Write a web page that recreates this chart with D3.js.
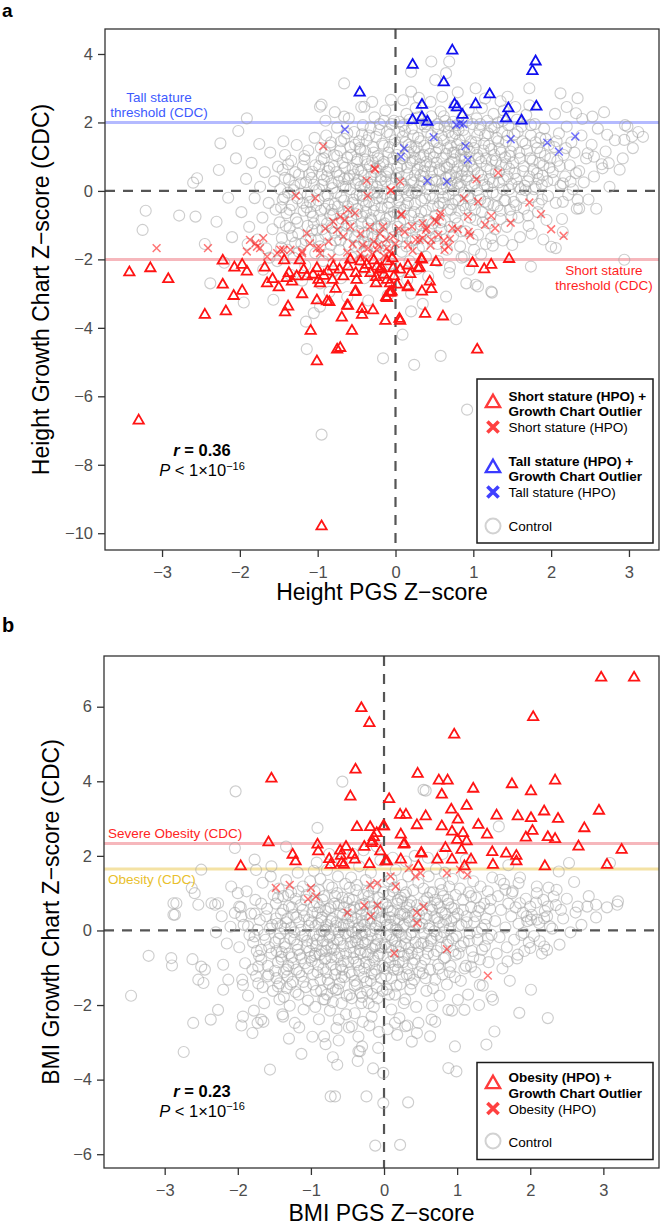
<!DOCTYPE html>
<html><head><meta charset="utf-8">
<script src="https://cdn.jsdelivr.net/npm/d3@7"></script>
<style>body{margin:0;background:#fff}svg{display:block}text{font-family:"Liberation Sans",Arial,Helvetica,sans-serif}</style>
</head><body><svg id="c" width="662" height="1225"></svg>
<script>
// ---------- DATA (panel a: height) ----------
const aXTicks=[-3,-2,-1,0,1,2,3];
const aYTicks=[-10,-8,-6,-4,-2,0,2,4];
const aShortTri=[[-3.42,-2.38],[-3.15,-2.26],[-2.92,-2.58],[-3.30,-6.71],[-2.22,-2.04],[-2.07,-2.24],[-1.97,-2.16],[-1.91,-2.36],[-2.22,-2.74],[-2.08,-3.07],[-1.97,-2.92],[-2.45,-3.62],[-2.18,-3.52],[-1.68,-2.24],[-1.65,-2.70],[-1.58,-2.58],[-1.50,-2.82],[-1.43,-2.03],[-1.37,-2.40],[-1.40,-2.55],[-1.33,-2.65],[-1.27,-2.50],[-1.23,-2.03],[-1.18,-2.31],[-1.14,-2.50],[-1.06,-2.45],[-1.01,-2.26],[-0.99,-2.60],[-0.97,-2.70],[-1.20,-3.02],[-1.38,-3.38],[-1.42,-3.55],[-1.01,-3.20],[-0.88,-3.23],[-0.85,-3.25],[-1.09,-4.09],[-0.80,-2.21],[-0.81,-2.60],[-0.77,-2.86],[-0.67,-2.50],[-0.61,-2.21],[-0.58,-2.01],[-0.51,-2.40],[-0.50,-2.60],[-0.51,-2.94],[-0.62,-3.35],[-0.69,-3.70],[-0.56,-4.09],[-0.43,-3.45],[-0.43,-3.62],[-0.29,-3.49],[-0.45,-2.06],[-0.37,-2.16],[-0.28,-2.03],[-0.24,-2.21],[-0.18,-2.26],[-0.11,-2.06],[-0.04,-1.97],[-0.03,-2.26],[-0.11,-2.60],[-0.07,-2.70],[0.02,-2.74],[-0.05,-2.94],[-0.11,-3.13],[-0.25,-2.70],[-0.13,-3.80],[0.05,-3.74],[0.06,-3.80],[0.16,-2.18],[0.19,-2.43],[0.29,-2.26],[0.34,-2.01],[0.16,-2.82],[0.34,-2.94],[0.38,-3.59],[-0.75,-4.64],[-0.71,-4.59],[-1.01,-4.98],[-0.95,-9.80],[1.05,-4.64],[-0.61,-3.36],[-0.12,-3.10],[-0.06,-2.97],[-0.52,-2.96],[0.16,-2.79],[0.46,-2.87],[0.44,-2.65],[0.61,-3.67],[0.99,-2.11],[1.14,-2.29],[1.23,-2.16],[1.46,-1.99],[0.52,-2.08],[0.33,-1.99],[0.31,-2.24],[-0.08,-2.97],[-0.20,-2.30],[-0.15,-2.45],[-0.32,-2.40],[-0.40,-2.28],[-0.87,-2.35],[-0.92,-2.48],[-0.72,-2.30],[-0.25,-2.52],[-0.02,-2.50],[0.06,-2.30]];
const aShortX=[[-0.93,1.31],[-0.26,0.63],[-0.37,0.30],[-0.36,-0.14],[-0.06,0.01],[0.06,0.27],[-1.28,-0.14],[-1.03,-0.21],[0.08,-0.68],[1.04,0.34],[1.32,0.53],[0.88,-0.21],[1.06,-0.31],[1.72,-0.34],[1.87,-0.68],[2.00,-1.12],[2.16,-1.31],[0.93,-0.75],[1.23,-0.73],[1.48,-0.93],[1.28,-1.09],[1.15,-0.99],[0.94,-1.20],[0.96,-1.30],[0.68,-1.63],[0.73,-1.09],[0.80,-1.12],[0.57,-0.75],[0.53,-0.90],[0.35,-0.94],[0.40,-1.09],[0.21,-1.04],[0.31,-1.43],[-0.03,-1.33],[-0.16,-1.04],[-0.20,-1.24],[-0.28,-1.48],[-0.11,-1.67],[-0.24,-1.72],[-0.35,-1.67],[-0.61,-0.55],[-0.52,-0.65],[-0.71,-0.75],[-0.65,-0.85],[-0.80,-0.90],[-0.75,-1.14],[-0.58,-1.04],[-0.67,-1.33],[-0.86,-1.48],[-0.97,-1.67],[-1.14,-1.24],[-1.10,-1.53],[-1.20,-1.77],[-1.35,-1.72],[-1.48,-1.72],[-1.70,-1.38],[-1.80,-1.53],[-1.74,-1.67],[-1.91,-1.77],[-3.07,-1.67],[-2.41,-1.67],[-1.87,-1.43],[-1.78,-1.63],[-1.65,-1.92],[-1.52,-1.82],[-1.44,-1.72],[-1.20,-1.82],[-1.01,-1.67],[-0.97,-1.82],[-0.27,0.66],[-0.06,0.03],[0.07,-0.70],[0.63,-1.72],[0.50,-0.85],[0.58,-0.65],[0.39,-1.14],[0.35,-1.38],[0.46,-1.43],[0.26,-1.43],[0.16,-1.58],[-0.45,-1.85],[-0.55,-1.55],[-0.82,-1.95],[-0.05,-1.85],[0.00,-1.55],[-0.15,-1.90],[-0.40,-1.95],[-0.62,-1.80],[-0.90,-1.10],[-0.45,-1.25],[0.12,-1.20],[-0.33,-1.05],[-0.12,-1.42],[0.04,-1.10],[0.22,-1.75],[0.45,-1.60],[0.55,-1.28],[0.62,-1.45],[-0.42,-1.58],[-0.22,-1.58],[-0.30,-1.85],[-0.08,-1.78],[0.70,-1.40]];
const aTallTri=[[-0.46,2.87],[0.22,3.68],[0.73,4.10],[0.62,3.17],[0.34,2.51],[0.22,2.07],[0.34,2.15],[0.41,2.02],[0.76,2.53],[0.79,2.44],[0.86,2.22],[1.03,2.53],[1.21,2.82],[1.45,2.41],[1.42,2.12],[1.62,2.05],[1.80,3.78],[1.76,3.50],[1.81,2.46]];
const aTallX=[[-0.65,1.80],[0.49,1.57],[0.11,1.25],[0.07,1.00],[0.78,1.93],[0.83,1.97],[0.87,1.95],[0.90,1.31],[0.93,0.91],[0.41,0.29],[0.66,0.27],[1.48,1.51],[1.95,1.41],[2.10,1.15],[2.31,1.59]];
const aControl=[[-1.98,-0.62],[-1.92,0.35],[-1.88,-1.05],[-1.85,0.82],[-1.81,-0.21],[-1.77,-1.42],[-1.74,0.12],[-1.71,-0.78],[-1.68,0.55],[-1.66,-1.68],[-1.63,-0.35],[-1.61,1.12],[-1.58,-1.12],[-1.56,0.28],[-1.54,-0.55],[-1.52,-2.05],[-1.51,0.71],[-1.9,-1.55],[-1.7,-2.3],[-1.62,-1.95],
[-1.49,-0.92],[-1.48,0.05],[-1.46,-1.38],[-1.45,0.62],[-1.43,-0.18],[-1.42,1.05],[-1.40,-0.65],[-1.39,-1.72],[-1.37,0.33],[-1.36,-1.08],[-1.34,0.88],[-1.33,-0.42],[-1.31,-1.95],[-1.30,0.15],[-1.28,-0.81],[-1.27,1.34],[-1.25,-1.25],[-1.24,0.48],[-1.22,-0.08],[-1.21,-1.55],[-1.19,0.72],[-1.18,-0.58],[-1.16,-2.18],[-1.15,0.25],[-1.13,-1.02],[-1.12,1.18],[-1.10,-0.32],[-1.09,-1.41],[-1.07,0.56],[-1.06,-0.75],[-1.04,1.55],[-1.03,-1.82],[-1.02,0.02],[-1.01,-1.15],[-1.35,-2.45],[-1.2,-2.62],[-1.44,1.45],[-1.26,-0.22],[-1.14,-0.48],[-1.08,0.38],[-1.38,-0.05],[-1.29,-1.52],[-1.17,1.02],[-1.05,-0.95],[-1.47,-0.48],
[-0.99,-0.28],[-0.98,0.72],[-0.97,-1.62],[-0.96,1.25],[-0.95,-0.85],[-0.94,0.18],[-0.93,-2.05],[-0.92,0.95],[-0.91,-0.52],[-0.90,-1.28],[-0.89,1.62],[-0.88,0.42],[-0.87,-0.12],[-0.86,-1.85],[-0.85,0.68],[-0.84,-0.72],[-0.83,1.42],[-0.82,-1.08],[-0.81,0.08],[-0.80,-2.35],[-0.79,1.05],[-0.78,-0.38],[-0.77,-1.45],[-0.76,0.55],[-0.75,1.85],[-0.74,-0.95],[-0.73,0.28],[-0.72,-1.72],[-0.71,1.18],[-0.70,-0.18],[-0.69,-1.22],[-0.68,0.82],[-0.67,-0.62],[-0.66,1.52],[-0.65,-2.12],[-0.64,0.12],[-0.63,-1.02],[-0.62,0.98],[-0.61,-0.45],[-0.60,-1.58],[-0.59,0.45],[-0.58,1.28],[-0.57,-0.82],[-0.56,-1.95],[-0.55,0.65],[-0.54,-0.25],[-0.53,1.72],[-0.52,-1.35],[-0.51,0.22],[-0.50,-0.68],[-0.97,-2.7],[-0.85,-2.95],[-0.7,-2.55],[-0.62,-3.1],[-0.9,2.05],[-0.78,2.3],[-0.6,2.12],[-0.95,0.48],[-0.82,-0.55],[-0.66,0.35],
[-0.49,0.92],[-0.48,-1.18],[-0.47,1.45],[-0.46,-0.12],[-0.45,-2.02],[-0.44,0.58],[-0.43,-0.75],[-0.42,1.92],[-0.41,-1.48],[-0.40,0.18],[-0.39,1.15],[-0.38,-0.42],[-0.37,-1.75],[-0.36,0.78],[-0.35,-0.95],[-0.34,1.62],[-0.33,0.02],[-0.32,-2.28],[-0.31,0.42],[-0.30,-1.25],[-0.29,1.28],[-0.28,-0.58],[-0.27,2.15],[-0.26,-1.62],[-0.25,0.65],[-0.24,-0.22],[-0.23,1.02],[-0.22,-1.05],[-0.21,1.78],[-0.20,-1.88],[-0.19,0.32],[-0.18,-0.48],[-0.17,1.38],[-0.16,-1.32],[-0.15,0.85],[-0.14,-0.08],[-0.13,2.35],[-0.12,-0.82],[-0.11,0.55],[-0.10,-1.58],[-0.09,1.12],[-0.08,-0.35],[-0.07,1.65],[-0.06,-2.12],[-0.05,0.22],[-0.04,-1.12],[-0.03,0.95],[-0.02,-0.62],[-0.01,1.48],[-0.48,0.32],[-0.42,-0.28],[-0.36,-1.32],[-0.3,0.88],[-0.24,0.12],[-0.18,-1.0],[-0.12,0.42],[-0.06,-0.18],[-0.44,2.45],[-0.3,2.6],[-0.15,2.05],[-0.4,-2.55],[-0.22,-2.62],[-0.08,-2.45],[-0.35,-3.2],[-0.1,-3.05],[-0.45,1.2],[-0.32,-0.8],[-0.2,0.72],[-0.05,1.95],[-0.27,-0.05],
[0.01,0.38],[0.02,-1.42],[0.03,1.25],[0.04,-0.28],[0.05,2.02],[0.06,-0.92],[0.07,0.72],[0.08,-1.78],[0.09,1.58],[0.10,0.05],[0.11,-0.55],[0.12,1.02],[0.13,-1.22],[0.14,2.25],[0.15,0.48],[0.16,-0.15],[0.17,1.35],[0.18,-2.05],[0.19,0.82],[0.20,-0.72],[0.21,1.82],[0.22,-1.45],[0.23,0.25],[0.24,1.15],[0.25,-0.38],[0.26,2.42],[0.27,-1.05],[0.28,0.62],[0.29,1.55],[0.30,-1.68],[0.31,0.12],[0.32,0.98],[0.33,-0.62],[0.34,1.95],[0.35,-1.25],[0.36,0.42],[0.37,1.32],[0.38,-0.22],[0.39,-1.92],[0.40,0.85],[0.41,1.72],[0.42,-0.85],[0.43,0.18],[0.44,1.08],[0.45,-1.38],[0.46,2.18],[0.47,0.55],[0.48,-0.45],[0.49,1.45],[0.02,0.68],[0.08,0.18],[0.14,-0.42],[0.2,1.28],[0.26,-0.05],[0.32,0.45],[0.38,0.72],[0.44,-0.12],[0.05,-2.35],[0.15,-2.6],[0.28,-2.28],[0.42,-2.5],[0.1,2.65],[0.3,2.72],[0.45,2.6],[0.2,-3.0],[0.35,-3.3],[0.48,-0.95],[0.12,1.75],[0.25,0.95],[0.4,1.95],[0.03,-0.65],[0.17,0.02],[0.33,-1.0],[0.47,0.32],
[0.51,-0.72],[0.52,1.12],[0.53,0.28],[0.54,-1.55],[0.55,1.82],[0.56,0.62],[0.57,-0.35],[0.58,2.32],[0.59,-1.12],[0.60,0.95],[0.61,0.05],[0.62,1.48],[0.63,-0.88],[0.64,2.05],[0.65,0.38],[0.66,-1.72],[0.67,1.25],[0.68,-0.12],[0.69,0.78],[0.70,1.92],[0.71,-0.55],[0.72,0.22],[0.73,1.58],[0.74,-1.32],[0.75,0.92],[0.76,2.48],[0.77,-0.25],[0.78,0.55],[0.79,1.35],[0.80,-0.95],[0.81,1.78],[0.82,0.12],[0.83,-1.62],[0.84,1.05],[0.85,0.45],[0.86,2.15],[0.87,-0.42],[0.88,0.72],[0.89,1.62],[0.90,-1.18],[0.91,0.32],[0.92,1.28],[0.93,-0.18],[0.94,2.38],[0.95,0.85],[0.96,-0.78],[0.97,1.45],[0.98,0.15],[0.99,1.95],[0.55,-2.05],[0.7,-2.22],[0.85,-1.95],[0.95,-2.3],[0.6,2.75],[0.8,2.88],[0.58,0.05],[0.66,0.68],[0.74,1.12],[0.82,-0.58],[0.9,0.98],[0.53,1.42],[0.62,-0.35],[0.71,0.45],[0.8,0.22],[0.88,1.2],[0.97,-0.42],[0.63,1.88],[0.77,1.68],[0.92,0.58],[0.99,-1.42],
[1.01,0.62],[1.02,-0.55],[1.03,1.42],[1.04,2.12],[1.05,0.02],[1.06,-1.28],[1.07,0.95],[1.08,1.78],[1.09,-0.25],[1.10,0.45],[1.11,2.42],[1.12,-0.92],[1.13,1.18],[1.14,0.18],[1.15,1.62],[1.16,-1.55],[1.17,0.72],[1.18,2.05],[1.19,-0.38],[1.20,1.32],[1.21,0.35],[1.22,-0.72],[1.23,1.88],[1.24,0.88],[1.25,-0.05],[1.26,2.25],[1.27,1.05],[1.28,-1.12],[1.29,0.52],[1.30,1.55],[1.31,-0.45],[1.32,2.0],[1.33,0.25],[1.34,1.22],[1.35,-0.82],[1.36,0.75],[1.37,1.72],[1.38,0.05],[1.39,2.35],[1.40,-0.28],[1.41,0.98],[1.42,1.45],[1.43,-1.05],[1.44,0.42],[1.45,1.92],[1.46,0.65],[1.47,-0.55],[1.48,1.15],[1.49,0.2],[1.1,-1.85],[1.25,-1.6],[1.38,-1.45],[1.15,2.7],[1.35,2.62],[1.05,1.05],
[1.51,0.82],[1.52,-0.32],[1.53,1.65],[1.55,0.35],[1.56,2.08],[1.58,-0.78],[1.59,1.12],[1.61,0.05],[1.62,1.88],[1.64,0.58],[1.65,-0.52],[1.67,1.38],[1.68,2.22],[1.70,0.28],[1.71,-1.02],[1.73,0.95],[1.74,1.62],[1.76,-0.18],[1.77,0.62],[1.79,1.95],[1.80,0.12],[1.82,1.25],[1.83,-0.62],[1.85,0.82],[1.86,1.55],[1.88,-0.25],[1.89,0.45],[1.91,1.82],[1.92,1.02],[1.94,-0.85],[1.95,0.28],[1.97,1.35],[1.98,0.68],[1.6,-1.35],[1.75,-1.25],[1.9,-1.42],[1.54,2.45],[1.72,2.5],[1.66,0.15],[1.84,0.35],
[2.02,0.55],[2.04,1.28],[2.06,-0.35],[2.08,0.88],[2.10,1.68],[2.12,0.15],[2.14,-0.82],[2.16,1.05],[2.18,0.42],[2.2,1.88],[2.22,-0.12],[2.24,0.75],[2.26,1.42],[2.28,0.05],[2.3,1.12],[2.33,-0.52],[2.36,0.58],[2.39,1.62],[2.42,0.25],[2.45,0.95],[2.48,-0.25],[2.05,2.25],[2.2,2.45],[2.4,2.1],[2.15,-1.2],
[2.52,1.35],[2.55,0.42],[2.6,1.82],[2.65,0.78],[2.7,1.15],[2.75,0.12],[2.82,1.48],[2.88,0.62],[2.95,1.92],[3.05,1.25],[3.12,1.72],[3.18,1.58],[2.58,-0.52],[2.68,2.3],[2.92,0.95],
[-1.91,2.12],[-2.02,1.75],[-2.25,1.39],[-1.75,1.37],[-2.27,0.61],[-2.55,0.37],[-2.60,0.24],[-3.21,-0.58],[-2.78,-0.72],[-3.25,-1.14],[-2.57,-0.75],[-0.97,2.46],[-0.95,2.52],[0.46,3.78],[0.69,3.78],[0.51,3.24],[0.65,3.44],[1.03,3.0],[1.44,2.75],[1.72,3.0],[2.12,2.85],[2.34,2.71],[2.32,2.27],[2.53,2.17],[2.72,1.64],[2.98,1.88],[2.94,1.49],[3.04,1.59],[2.47,1.10],[2.55,1.00],[2.74,0.81],[2.66,0.66],[2.32,0.52],[2.25,0.27],[2.15,0.22],[2.34,-0.26],[2.36,-0.51],[2.00,-1.63],[2.06,-1.67],[2.94,-2.01],[1.74,-2.21],[1.50,-1.58],[1.23,-1.38],[1.01,-1.72],[0.88,-1.92],[0.69,-2.40],[0.91,-2.70],[1.06,-2.79],[1.23,-2.94],[0.65,-3.09],[0.20,3.48],[0.20,2.90],[-0.06,2.66],[-0.40,2.46],[-0.66,3.14],[-0.66,2.17],[-0.95,-7.12],[0.92,-6.39],[-0.16,-4.89],[0.24,-5.08],[0.58,-4.82],[0.20,-3.52],[0.09,-4.20],[0.78,-3.75],[1.24,-2.97],[1.03,-2.74],[-1.15,-3.82],[-1.14,-4.62],[-1.05,-3.57],[-1.95,-3.26],[-2.38,-2.70],[-1.57,-3.18],[-0.97,-3.38],[-2.1,-1.35],[-2.3,-0.9],[-2.15,-0.2],[-2.05,0.95],[-2.45,-1.55],[-2.2,-2.1]];
const aControlCore=[[-1.47,-1.65],[-1.45,-0.25],[-1.42,0.38],[-1.41,-1.02],[-1.38,0.78],[-1.36,-0.55],[-1.33,-1.32],[-1.31,0.02],[-1.29,0.55],[-1.26,-0.92],[-1.24,-1.78],[-1.22,0.22],[-1.19,-0.35],[-1.17,0.92],[-1.15,-1.45],[-1.13,-0.12],[-1.11,0.48],[-1.09,-0.62],[-1.07,-1.15],[-1.05,0.18],[-1.03,0.75],[-1.02,-0.42],
[-0.99,-1.42],[-0.98,0.05],[-0.96,-0.58],[-0.95,0.92],[-0.94,-1.12],[-0.92,0.32],[-0.91,-0.15],[-0.9,1.12],[-0.88,-0.95],[-0.87,0.58],[-0.86,-0.38],[-0.84,1.32],[-0.83,-1.58],[-0.82,0.22],[-0.8,-0.68],[-0.79,0.72],[-0.78,-1.22],[-0.76,-0.05],[-0.75,1.02],[-0.74,-0.45],[-0.72,0.45],[-0.71,-1.45],[-0.7,1.45],[-0.69,-0.82],[-0.67,0.12],[-0.66,-0.28],[-0.65,0.68],[-0.63,-1.25],[-0.62,1.68],[-0.61,0.35],[-0.6,-0.62],[-0.58,0.05],[-0.57,1.05],[-0.56,-1.02],[-0.55,-0.35],[-0.53,0.48],[-0.52,1.35],[-0.51,-1.62],[-0.5,0.85],[-0.5,-0.12],
[-0.49,-0.52],[-0.48,0.62],[-0.47,-1.55],[-0.46,1.25],[-0.45,0.12],[-0.44,-0.95],[-0.43,1.65],[-0.42,-0.15],[-0.41,0.45],[-0.4,-1.22],[-0.39,0.92],[-0.38,-0.62],[-0.37,1.48],[-0.36,0.25],[-0.35,-1.58],[-0.34,-0.32],[-0.33,0.72],[-0.32,1.85],[-0.31,-0.85],[-0.3,0.18],[-0.29,-1.35],[-0.28,1.12],[-0.27,-0.42],[-0.26,0.55],[-0.25,1.58],[-0.24,-1.12],[-0.23,-0.05],[-0.22,0.95],[-0.21,-0.72],[-0.2,1.95],[-0.19,0.42],[-0.18,-1.45],[-0.17,-0.22],[-0.16,0.78],[-0.15,1.32],[-0.14,-0.95],[-0.13,0.28],[-0.12,-1.75],[-0.11,1.72],[-0.1,-0.48],[-0.09,0.62],[-0.08,1.28],[-0.07,-0.75],[-0.05,0.05],[-0.03,-1.35],[-0.02,2.05],
[0.01,-0.12],[0.02,1.05],[0.03,-1.05],[0.04,0.52],[0.05,1.72],[0.06,-0.48],[0.07,0.25],[0.08,-1.32],[0.09,0.95],[0.1,1.92],[0.11,-0.82],[0.12,0.12],[0.13,1.42],[0.14,-1.62],[0.15,0.68],[0.16,-0.35],[0.17,1.12],[0.18,2.08],[0.19,-1.08],[0.2,0.32],[0.21,-0.05],[0.22,0.88],[0.23,1.62],[0.24,-0.62],[0.25,0.45],[0.26,-1.42],[0.27,1.28],[0.28,0.02],[0.29,2.15],[0.3,-0.82],[0.31,0.78],[0.32,1.45],[0.33,-0.28],[0.34,0.28],[0.35,-1.62],[0.36,1.05],[0.37,0.58],[0.38,1.88],[0.39,-0.58],[0.4,0.05],[0.42,1.25],[0.43,-1.15],[0.45,0.72],[0.46,1.62],[0.48,-0.22],[0.49,0.98],
[0.51,0.32],[0.52,-1.32],[0.53,0.82],[0.54,1.95],[0.55,-0.45],[0.56,1.25],[0.57,0.58],[0.58,-0.92],[0.59,1.62],[0.6,0.22],[0.61,-0.18],[0.62,2.18],[0.63,0.72],[0.64,-1.42],[0.65,1.08],[0.66,0.12],[0.67,-0.55],[0.68,1.72],[0.69,0.42],[0.7,-1.05],[0.71,1.32],[0.72,0.85],[0.73,-0.38],[0.74,2.02],[0.75,0.02],[0.76,1.12],[0.77,-0.78],[0.78,0.38],[0.79,1.92],[0.8,0.72],[0.81,-0.28],[0.82,1.48],[0.83,0.18],[0.84,-1.18],[0.85,1.22],[0.86,0.58],[0.87,1.78],[0.88,-0.05],[0.89,0.92],[0.9,-0.52],[0.92,2.05],[0.93,0.42],[0.95,1.15],[0.96,-0.22],[0.98,0.72],
[1.01,1.25],[1.02,0.22],[1.03,-0.85],[1.05,1.62],[1.06,0.52],[1.07,-0.15],[1.09,1.95],[1.1,0.85],[1.11,-0.62],[1.12,0.32],[1.14,1.38],[1.15,-0.32],[1.16,0.95],[1.18,0.12],[1.19,1.68],[1.2,-0.95],[1.22,0.62],[1.23,1.22],[1.25,0.25],[1.26,-0.42],[1.27,1.85],[1.29,0.88],[1.3,-0.12],[1.32,1.45],[1.33,0.55],[1.35,-0.58],[1.36,1.12],[1.38,2.05],[1.39,0.32],[1.41,-0.28],[1.42,0.78],[1.44,1.62],[1.46,0.05],[1.47,1.02],[1.49,-0.75],
[1.51,1.32],[1.53,0.52],[1.55,-0.42],[1.57,1.72],[1.58,0.12],[1.6,0.95],[1.62,-0.18],[1.63,1.45],[1.65,0.72],[1.67,0.02],[1.69,1.18],[1.7,-0.72],[1.72,0.42],[1.74,1.92],[1.76,0.88],[1.78,0.05],[1.8,1.42],[1.82,0.52],[1.84,-0.38],[1.86,1.12],[1.88,0.18],[1.9,0.75],[1.93,1.52],[1.96,-0.15],[1.99,0.95],[2.03,0.32],[2.07,1.45],[2.11,0.72],[2.15,-0.32],[2.19,1.25]];

// ---------- DATA (panel b: BMI) ----------
const bXTicks=[-3,-2,-1,0,1,2,3];
const bYTicks=[-6,-4,-2,0,2,4,6];
const bObeseTri=[[2.97,6.78],[3.42,6.78],[-0.31,5.96],[-0.20,5.56],[2.04,5.72],[0.96,5.25],[-0.39,4.31],[-0.46,3.59],[0.46,4.20],[0.75,4.02],[0.87,4.02],[0.79,3.64],[1.22,3.80],[1.75,3.92],[2.01,3.73],[2.34,4.02],[0.07,3.52],[2.94,3.21],[0.22,3.10],[0.30,3.10],[0.57,3.06],[0.92,3.24],[1.13,3.34],[1.01,2.97],[1.54,3.08],[1.83,3.06],[2.01,3.01],[2.19,3.19],[2.38,2.99],[2.74,2.74],[-0.37,2.77],[-0.19,2.77],[-0.01,2.79],[-0.10,2.61],[0.45,2.82],[0.79,2.79],[1.29,2.83],[0.23,2.57],[0.28,2.32],[-0.17,2.34],[-0.14,2.50],[-0.27,2.24],[-0.52,2.24],[-0.43,2.03],[-0.59,2.00],[-0.05,2.12],[0.04,1.85],[0.23,1.90],[-0.20,1.78],[-0.40,1.90],[-0.55,1.76],[0.51,2.08],[0.47,1.72],[0.73,1.90],[0.93,1.90],[0.84,2.21],[0.93,2.65],[1.00,2.43],[1.08,2.61],[1.13,2.39],[1.06,2.16],[1.19,1.90],[1.10,1.72],[1.41,2.57],[1.48,2.10],[1.49,1.76],[1.67,2.06],[1.81,2.00],[1.81,1.85],[1.94,2.49],[2.03,2.67],[2.24,2.50],[2.34,2.45],[2.20,1.72],[2.66,2.25],[3.25,2.16],[3.05,1.76],[-1.54,4.07],[-1.58,2.36],[-1.96,1.72],[-1.25,2.03],[-1.21,1.85],[-0.91,2.30],[-0.90,2.12],[-0.75,1.91],[-0.73,1.76],[-0.60,2.14],[-0.58,1.81],[-0.16,2.39],[0.00,2.79],[0.02,1.85],[0.27,2.30],[0.51,2.06]];
const bObeseX=[[-1.48,1.14],[-1.29,1.22],[-1.00,1.14],[-1.04,0.84],[-0.93,0.91],[-0.50,0.48],[-0.27,0.67],[-0.09,0.67],[-0.18,0.38],[-0.19,1.22],[-0.09,1.27],[0.09,1.45],[0.16,1.18],[0.34,1.67],[0.43,1.45],[0.50,1.54],[0.54,0.64],[0.45,0.48],[0.45,0.20],[0.14,-0.61],[0.86,1.54],[1.04,1.63],[1.14,1.49],[0.86,-0.50],[1.42,-1.21]];
const bControl=[[-1.98,-0.45],[-1.96,0.62],[-1.94,-1.32],[-1.92,0.15],[-1.9,-0.88],[-1.88,1.05],[-1.86,-1.75],[-1.84,-0.12],[-1.82,0.45],[-1.8,-1.05],[-1.78,-2.15],[-1.76,0.82],[-1.74,-0.55],[-1.72,-1.42],[-1.7,0.28],[-1.68,-0.78],[-1.66,1.28],[-1.64,-1.95],[-1.62,-0.25],[-1.6,0.58],[-1.58,-1.18],[-1.56,0.05],[-1.54,-0.62],[-1.52,-1.62],[-1.51,0.95],[-1.95,-2.55],[-1.8,-2.75],[-1.65,-2.45],[-1.55,1.45],[-1.75,1.62],
[-1.49,-0.32],[-1.48,0.72],[-1.47,-1.28],[-1.46,0.18],[-1.45,-0.85],[-1.44,1.12],[-1.43,-1.85],[-1.42,-0.08],[-1.41,0.45],[-1.4,-0.58],[-1.39,-2.25],[-1.38,0.92],[-1.37,-1.12],[-1.36,0.05],[-1.35,-0.45],[-1.34,1.35],[-1.33,-1.55],[-1.32,0.32],[-1.31,-0.95],[-1.3,0.65],[-1.29,-2.02],[-1.28,-0.22],[-1.27,1.02],[-1.26,-0.72],[-1.25,-1.38],[-1.24,0.42],[-1.23,-0.05],[-1.22,-2.48],[-1.21,0.85],[-1.2,-1.05],[-1.19,-0.38],[-1.18,1.55],[-1.17,-1.72],[-1.16,0.22],[-1.15,-0.65],[-1.14,0.68],[-1.13,-1.22],[-1.12,-0.15],[-1.11,1.18],[-1.1,-2.12],[-1.09,0.38],[-1.08,-0.88],[-1.07,-1.52],[-1.06,0.95],[-1.05,-0.28],[-1.04,-1.88],[-1.03,0.12],[-1.02,-0.55],[-1.01,1.32],[-1.3,-2.9],
[-0.99,-0.82],[-0.98,0.48],[-0.97,-1.45],[-0.96,-0.12],[-0.95,1.05],[-0.94,-2.05],[-0.93,-0.42],[-0.92,0.75],[-0.91,-1.12],[-0.9,0.18],[-0.89,-2.38],[-0.88,-0.65],[-0.87,1.38],[-0.86,-1.62],[-0.85,0.35],[-0.84,-0.28],[-0.83,-1.02],[-0.82,0.92],[-0.81,-1.85],[-0.8,0.02],[-0.79,-0.55],[-0.78,1.62],[-0.77,-1.32],[-0.76,0.58],[-0.75,-0.18],[-0.74,-2.15],[-0.73,0.25],[-0.72,-0.92],[-0.71,1.15],[-0.7,-1.55],[-0.69,-0.35],[-0.68,0.72],[-0.67,-1.18],[-0.66,0.12],[-0.65,-2.62],[-0.64,-0.72],[-0.63,1.45],[-0.62,-0.05],[-0.61,-1.42],[-0.6,0.45],[-0.59,-0.95],[-0.58,-1.95],[-0.57,0.88],[-0.56,-0.42],[-0.55,0.15],[-0.54,-1.25],[-0.53,1.25],[-0.52,-0.62],[-0.51,-1.75],[-0.5,0.32],[-0.98,-2.85],[-0.8,-3.05],[-0.62,-2.95],[-0.92,1.82],[-0.75,2.05],[-0.58,1.85],[-0.85,-0.02],[-0.72,-0.48],[-0.6,-0.25],[-0.55,0.62],[-0.94,-0.62],[-0.66,-1.6],[-0.78,-1.72],[-0.88,0.62],[-0.52,-2.25],[-0.7,-3.4],[-0.96,1.6],[-0.64,1.0],[-0.8,-0.75],[-0.57,-1.05],
[-0.49,-0.15],[-0.48,0.85],[-0.47,-1.12],[-0.46,-0.45],[-0.45,1.42],[-0.44,-1.82],[-0.43,0.22],[-0.42,-0.75],[-0.41,0.62],[-0.4,-2.22],[-0.39,-0.28],[-0.38,1.08],[-0.37,-1.45],[-0.36,0.05],[-0.35,-0.92],[-0.34,1.72],[-0.33,-0.52],[-0.32,-1.68],[-0.31,0.42],[-0.3,-0.12],[-0.29,-2.45],[-0.28,0.95],[-0.27,-1.02],[-0.26,-0.35],[-0.25,1.35],[-0.24,-1.38],[-0.23,0.28],[-0.22,-0.65],[-0.21,-1.95],[-0.2,0.75],[-0.19,-0.02],[-0.18,1.55],[-0.17,-1.15],[-0.16,-0.48],[-0.15,0.52],[-0.14,-2.05],[-0.13,-0.82],[-0.12,1.18],[-0.11,0.12],[-0.1,-1.52],[-0.09,-0.25],[-0.08,0.88],[-0.07,-2.72],[-0.06,-0.62],[-0.05,1.88],[-0.04,-1.28],[-0.03,0.35],[-0.02,-0.95],[-0.01,1.02],[-0.48,-2.6],[-0.35,-2.85],[-0.2,-2.55],[-0.08,-3.15],[-0.42,2.05],[-0.28,2.15],[-0.1,2.25],[-0.45,0.38],[-0.38,-0.18],[-0.32,0.68],[-0.25,-0.85],[-0.18,0.18],[-0.12,-0.42],[-0.05,-0.08],[-0.4,-1.35],[-0.3,-1.78],[-0.16,-1.7],[-0.02,-1.62],[-0.47,1.15],[-0.22,1.05],[-0.06,0.58],[-0.36,-3.5],[-0.15,-3.7],[-0.44,-0.02],[-0.27,0.15],[-0.11,-1.05],
[0.01,-0.38],[0.02,0.72],[0.03,-1.22],[0.04,0.15],[0.05,-0.72],[0.06,1.32],[0.07,-1.72],[0.08,-0.12],[0.09,0.52],[0.1,-2.12],[0.11,-0.55],[0.12,1.05],[0.13,-1.05],[0.14,0.28],[0.15,-0.28],[0.16,1.62],[0.17,-1.48],[0.18,0.02],[0.19,0.82],[0.2,-0.85],[0.21,-2.35],[0.22,0.45],[0.23,-0.42],[0.24,1.22],[0.25,-1.25],[0.26,0.12],[0.27,-0.68],[0.28,0.95],[0.29,-1.85],[0.3,-0.18],[0.31,0.62],[0.32,-1.02],[0.33,1.45],[0.34,-0.48],[0.35,0.25],[0.36,-1.58],[0.37,0.78],[0.38,-0.05],[0.39,-0.88],[0.4,1.08],[0.41,-1.32],[0.42,0.38],[0.43,-0.32],[0.44,-2.05],[0.45,0.68],[0.46,-0.62],[0.47,1.28],[0.48,-1.12],[0.49,0.08],[0.05,-2.65],[0.18,-2.8],[0.32,-2.55],[0.45,-2.75],[0.12,1.95],[0.3,1.85],[0.42,2.0],[0.08,0.35],[0.2,-0.05],[0.28,0.45],[0.38,-0.6],[0.15,-0.95],[0.25,0.78],[0.48,0.42],[0.1,1.38],[0.35,-1.2],
[0.51,-0.35],[0.52,0.55],[0.53,-1.15],[0.54,1.12],[0.55,-0.08],[0.56,-0.78],[0.57,0.32],[0.58,-1.62],[0.59,0.88],[0.6,-0.42],[0.61,1.45],[0.62,0.12],[0.63,-1.05],[0.64,0.65],[0.65,-0.22],[0.66,-2.02],[0.67,1.02],[0.68,-0.65],[0.69,0.35],[0.7,-1.32],[0.71,1.65],[0.72,-0.12],[0.73,0.72],[0.74,-0.92],[0.75,0.22],[0.76,-1.75],[0.77,1.25],[0.78,-0.45],[0.79,0.48],[0.8,-1.18],[0.81,0.92],[0.82,-0.05],[0.83,1.55],[0.84,-0.72],[0.85,0.28],[0.86,-1.45],[0.87,0.82],[0.88,-0.28],[0.89,1.18],[0.9,0.05],[0.91,-0.95],[0.92,0.62],[0.93,-2.15],[0.94,1.38],[0.95,-0.55],[0.96,0.35],[0.97,-1.25],[0.98,0.95],[0.99,-0.15],[0.6,1.95],[0.8,2.05],[0.7,-2.45],
[1.01,0.45],[1.02,-0.62],[1.04,1.12],[1.05,-1.35],[1.06,0.15],[1.08,0.82],[1.09,-0.32],[1.1,1.52],[1.12,-0.95],[1.13,0.38],[1.15,-1.72],[1.16,1.02],[1.17,-0.08],[1.19,0.62],[1.2,-0.55],[1.22,1.32],[1.23,0.22],[1.25,-1.12],[1.26,0.88],[1.28,-0.25],[1.29,0.52],[1.31,-0.78],[1.32,1.18],[1.34,0.05],[1.35,-1.48],[1.37,0.72],[1.38,-0.42],[1.4,0.32],[1.42,1.05],[1.43,-0.85],[1.45,0.58],[1.47,-0.12],[1.48,1.42],[1.12,1.9],[1.3,-2.0],
[1.52,0.25],[1.54,-0.62],[1.56,0.92],[1.58,-0.18],[1.6,0.55],[1.62,-1.02],[1.64,1.25],[1.66,0.08],[1.68,-0.45],[1.7,0.72],[1.72,-1.35],[1.74,0.38],[1.76,1.05],[1.78,-0.25],[1.8,0.62],[1.82,-0.75],[1.84,0.18],[1.86,1.42],[1.88,-0.12],[1.9,0.48],[1.92,-0.55],[1.94,0.85],[1.96,0.25],[1.98,-0.32],[1.7,1.75],
[2.02,0.42],[2.05,-0.15],[2.08,0.75],[2.12,0.2],[2.16,-0.62],[2.2,0.52],[2.25,1.15],[2.3,0.05],[2.35,0.68],[2.4,-0.38],[2.45,0.32],[2.5,0.85],[2.55,-0.05],[2.62,0.48],[2.7,0.15],[2.8,0.92],[2.9,0.35],[3.05,0.62],[3.2,0.78],[2.6,1.3],
[-3.22,-0.68],[-3.46,-1.75],[-2.74,-3.26],[-2.61,-2.48],[-2.37,-2.39],[-2.27,-2.13],[-2.91,-0.74],[-2.90,-0.94],[-2.62,-0.77],[-2.50,-0.97],[-2.45,-1.05],[-2.54,-1.32],[-2.47,-1.41],[-2.20,-0.92],[-2.13,-1.32],[-2.20,-1.59],[-1.93,-2.31],[-1.68,-2.39],[-1.73,-2.48],[-1.56,-3.73],[-1.13,-3.31],[-1.38,-2.31],[-1.16,-2.60],[-0.82,-2.84],[-0.73,-4.45],[-1.93,-1.46],[-2.86,0.42],[-2.88,0.73],[-2.54,0.69],[-2.22,0.38],[-2.31,0.69],[-2.04,0.47],[-1.95,0.38],[-1.86,0.11],[-1.77,-0.16],[-1.68,-0.52],[-1.72,-0.97],[-1.59,-1.23],[-1.41,-0.70],[-1.45,-1.50],[-1.32,-1.23],[2.01,-1.59],[1.85,-2.21],[2.24,-2.35],[1.51,-2.71],[1.49,-1.86],[1.40,-3.06],[0.97,-3.11],[0.99,-3.78],[0.88,-3.69],[0.33,-4.61],[-0.24,-4.45],[-0.01,-4.63],[-0.12,-5.77],[0.22,-5.75],[-0.01,-3.82],[-0.33,-3.24],[-0.64,-3.60],[-0.67,-4.45],[0.63,-2.84],[0.38,-2.98],[2.24,0.64],[2.42,0.55],[2.65,0.64],[2.78,0.64],[2.90,0.69],[3.19,0.69],[2.19,-0.43],[2.19,0.33],[2.01,0.29],[1.83,-0.65],[1.69,-0.83],[1.47,-1.77],[1.19,-0.97],[1.31,-1.46],[1.01,-1.86],[1.10,-2.13],[0.88,-2.13],[0.65,-2.39],[0.47,-2.48],[0.29,-2.57],[0.15,-2.48],[-0.17,-2.31],[-0.44,-2.57],[-0.62,-2.39],[-0.30,-3.11],[-0.35,-3.24],[2.39,1.58],[2.53,1.81],[3.09,1.81],[2.36,1.09],[2.32,0.91],[2.18,0.82],[2.09,1.00],[2.09,1.18],[2.00,0.64],[1.95,0.38],[2.09,0.29],[2.23,0.38],[2.27,0.11],[2.13,-0.29],[2.23,-0.52],[2.00,-0.47],[1.91,-0.07],[1.84,1.27],[1.75,1.00],[1.86,0.73],[1.66,1.09],[1.59,1.36],[1.57,2.79],[0.54,3.77],[-0.57,3.99],[-2.03,3.73],[-0.91,2.75],[-2.04,2.21],[-1.77,1.90],[-2.09,1.18],[-2.00,1.00],[-1.98,0.64],[-2.50,1.63],[-2.63,1.14],[-2.59,1.00],[-2.84,0.73],[-2.88,0.42],[-2.36,0.73],[-2.27,0.73],[-1.34,2.25],[-1.54,1.72],[0.57,3.75],[-2.15,-0.35],[-2.3,-0.05],[-2.1,0.1]];
const bControlCore=[[-1.79,-0.32],[-1.77,0.45],[-1.75,-1.22],[-1.73,0.02],[-1.71,-0.68],[-1.68,0.72],[-1.66,-1.52],[-1.64,-0.12],[-1.61,0.38],[-1.59,-0.95],[-1.57,-0.45],[-1.53,0.15],
[-1.49,-1.08],[-1.48,0.32],[-1.47,-0.55],[-1.45,0.88],[-1.44,-0.22],[-1.43,-1.42],[-1.41,0.12],[-1.4,-0.78],[-1.38,0.55],[-1.37,-1.78],[-1.36,-0.35],[-1.34,0.22],[-1.33,-1.05],[-1.31,0.95],[-1.3,-0.62],[-1.28,-1.45],[-1.27,0.08],[-1.26,0.62],[-1.24,-0.88],[-1.23,-0.25],[-1.21,-1.65],[-1.2,0.35],[-1.18,-0.52],[-1.17,1.05],[-1.16,-1.12],[-1.14,0.02],[-1.13,-0.75],[-1.11,0.55],[-1.1,-1.38],[-1.08,-0.12],[-1.07,0.82],[-1.06,-0.45],[-1.04,-1.02],[-1.03,0.28],[-1.01,-0.72],
[-0.99,0.22],[-0.98,-0.35],[-0.97,-1.18],[-0.96,0.65],[-0.95,-0.68],[-0.94,0.12],[-0.93,-1.62],[-0.92,-0.25],[-0.91,0.48],[-0.9,-0.92],[-0.89,1.08],[-0.88,-0.12],[-0.87,-1.32],[-0.86,0.28],[-0.85,-0.55],[-0.84,0.82],[-0.83,-1.85],[-0.82,-0.02],[-0.81,-0.78],[-0.8,0.52],[-0.79,-1.12],[-0.78,0.15],[-0.77,-0.38],[-0.76,1.22],[-0.75,-1.42],[-0.74,-0.15],[-0.73,0.62],[-0.72,-0.72],[-0.71,0.32],[-0.7,-1.92],[-0.69,0.02],[-0.68,-0.52],[-0.67,0.92],[-0.66,-1.05],[-0.65,0.22],[-0.64,-0.25],[-0.63,-1.58],[-0.62,0.68],[-0.61,-0.62],[-0.59,0.08],[-0.58,-1.25],[-0.56,0.42],[-0.55,-0.82],[-0.53,-0.08],[-0.51,0.75],
[-0.49,-0.85],[-0.48,0.15],[-0.47,-1.72],[-0.46,0.55],[-0.45,-0.32],[-0.44,-1.18],[-0.43,0.82],[-0.42,-0.05],[-0.41,-0.58],[-0.4,-1.48],[-0.39,0.32],[-0.38,-0.85],[-0.37,1.22],[-0.36,-0.35],[-0.35,0.08],[-0.34,-1.08],[-0.33,0.58],[-0.32,-0.62],[-0.31,-1.95],[-0.3,0.25],[-0.29,-0.32],[-0.28,-1.25],[-0.27,0.72],[-0.26,-0.05],[-0.25,-0.58],[-0.24,0.42],[-0.23,-1.62],[-0.22,-0.25],[-0.21,0.92],[-0.2,-0.92],[-0.19,0.32],[-0.18,-1.35],[-0.17,-0.12],[-0.16,0.62],[-0.15,-0.72],[-0.14,1.12],[-0.13,-1.18],[-0.12,0.05],[-0.11,-0.38],[-0.1,0.48],[-0.09,-1.82],[-0.08,-0.68],[-0.06,0.25],[-0.04,-0.45],[-0.02,0.75],
[0.01,-1.02],[0.02,0.28],[0.03,-0.15],[0.04,-1.58],[0.05,0.62],[0.06,-0.45],[0.07,0.95],[0.08,-0.85],[0.09,0.15],[0.1,-1.28],[0.11,-0.25],[0.12,0.52],[0.13,-0.68],[0.14,1.15],[0.15,-1.72],[0.16,0.05],[0.17,-0.42],[0.18,0.72],[0.19,-1.05],[0.2,0.28],[0.21,-0.58],[0.22,-1.45],[0.23,0.88],[0.24,-0.12],[0.25,0.42],[0.26,-0.85],[0.27,-1.95],[0.28,0.15],[0.29,-0.35],[0.3,1.02],[0.31,-1.18],[0.32,0.35],[0.33,-0.65],[0.35,0.68],[0.36,-0.12],[0.38,-1.42],[0.4,0.48],[0.42,-0.78],[0.44,0.18],[0.47,-0.45],
[0.51,-0.95],[0.52,0.18],[0.54,-0.32],[0.55,0.78],[0.57,-1.28],[0.58,0.42],[0.6,-0.62],[0.61,0.05],[0.63,1.02],[0.64,-0.28],[0.66,0.55],[0.67,-1.55],[0.69,-0.02],[0.7,0.82],[0.72,-0.55],[0.73,0.32],[0.75,-1.02],[0.76,0.62],[0.78,-0.18],[0.79,1.08],[0.81,0.15],[0.82,-0.75],[0.84,0.45],[0.86,-0.38],[0.88,0.72],[0.9,-1.12],[0.92,0.25],[0.94,-0.22],[0.96,0.58],[0.98,-0.65],
[1.02,0.12],[1.05,-0.42],[1.08,0.55],[1.1,-1.02],[1.13,0.22],[1.16,-0.28],[1.19,0.92],[1.22,-0.72],[1.25,0.38],[1.28,-0.05],[1.31,0.62],[1.34,-0.52],[1.38,0.15],[1.42,-0.22],[1.46,0.82]];

// ---------- DRAWING ----------
const svg=d3.select("#c");
const RED="#ff1414", BLUE="#1010f0";
const tri=d3.symbol(d3.symbolTriangle,46)();
const triL=d3.symbol(d3.symbolTriangle,88)();
function xPath(s){return `M${-s},${-s}L${s},${s}M${-s},${s}L${s},${-s}`;}

function panel(o){
  const g=svg.append("g");
  const x=d3.scaleLinear().domain(o.xd).range([o.L,o.R]);
  const y=d3.scaleLinear().domain(o.yd).range([o.B,o.T]);
  g.append("rect").attr("x",o.L).attr("y",o.T).attr("width",o.R-o.L).attr("height",o.B-o.T).attr("fill","#fff");
  o.hlines.forEach(h=>g.append("line").attr("x1",o.L).attr("x2",o.R).attr("y1",y(h.v)).attr("y2",y(h.v)).attr("stroke",h.c).attr("stroke-width",3));
  g.append("line").attr("x1",o.L).attr("x2",o.R).attr("y1",y(0)).attr("y2",y(0)).attr("stroke","#555").attr("stroke-width",2.2).attr("stroke-dasharray","10,8");
  g.append("line").attr("x1",x(0)).attr("x2",x(0)).attr("y1",o.T).attr("y2",o.B).attr("stroke","#555").attr("stroke-width",2.2).attr("stroke-dasharray","10,8");
  g.append("g").selectAll("circle").data(o.ctrl).join("circle")
    .attr("cx",d=>x(d[0])).attr("cy",d=>y(d[1])).attr("r",5.5)
    .attr("fill","none").attr("stroke","#a4a4a4").attr("stroke-opacity",0.55).attr("stroke-width",1.15);
  o.crosses.forEach(c=>{
    g.append("g").selectAll("path").data(c.data).join("path")
      .attr("transform",d=>`translate(${x(d[0])},${y(d[1])})`).attr("d",xPath(3.9))
      .attr("stroke",c.color).attr("stroke-opacity",0.62).attr("stroke-width",1.5).attr("fill","none");
  });
  o.tris.forEach(c=>{
    g.append("g").selectAll("path").data(c.data).join("path")
      .attr("transform",d=>`translate(${x(d[0])},${y(d[1])})`).attr("d",tri)
      .attr("stroke",c.color).attr("stroke-width",1.8).attr("fill","none");
  });
  g.append("rect").attr("x",o.L).attr("y",o.T).attr("width",o.R-o.L).attr("height",o.B-o.T)
    .attr("fill","none").attr("stroke","#333").attr("stroke-width",1.3);
  const ax=g.append("g").attr("transform",`translate(0,${o.B})`)
    .call(d3.axisBottom(x).tickValues(o.xt).tickSize(7).tickPadding(9));
  const ay=g.append("g").attr("transform",`translate(${o.L},0)`)
    .call(d3.axisLeft(y).tickValues(o.yt).tickSize(7).tickPadding(5));
  [ax,ay].forEach(a=>{
    a.select(".domain").remove();
    a.selectAll(".tick line").attr("stroke","#333").attr("stroke-width",1.3);
    a.selectAll(".tick text").attr("fill","#4d4d4d").style("font-size","16.5px").style("font-family",'"Liberation Sans",Arial,sans-serif');
  });
  return {g,x,y};
}

panel({L:105,R:659,T:29,B:550,xd:[-3.733,3.386],yd:[-10.49,4.73],xt:aXTicks,yt:aYTicks,
  hlines:[{v:2,c:"#b4baff"},{v:-2,c:"#f6b7bc"}],ctrl:aControl.concat(aControlCore),
  crosses:[{data:aShortX,color:"#ff2020"},{data:aTallX,color:"#2020ff"}],
  tris:[{data:aShortTri,color:RED},{data:aTallTri,color:BLUE}]});
panel({L:104,R:659,T:656,B:1168,xd:[-3.83,3.761],yd:[-6.37,7.36],xt:bXTicks,yt:bYTicks,
  hlines:[{v:2.33,c:"#f6b7bc"},{v:1.65,c:"#f4e2a4"}],ctrl:bControl.concat(bControlCore),
  crosses:[{data:bObeseX,color:"#ff2020"}],
  tris:[{data:bObeseTri,color:RED}]});

function txt(x,y,s,opt){
  const t=svg.append("text").attr("x",x).attr("y",y).text(s)
    .style("font-size",(opt.size||14)+"px").attr("fill",opt.fill||"#000");
  if(opt.anchor)t.attr("text-anchor",opt.anchor);
  if(opt.bold)t.style("font-weight","bold");
  if(opt.rot)t.attr("transform",`rotate(-90,${x},${y})`);
  return t;
}
txt(2,17,"a",{size:19,bold:true});
txt(2,632,"b",{size:20,bold:true});
txt(382,600,"Height PGS Z\u2212score",{size:23,anchor:"middle"});
txt(48.5,289.5,"Height Growth Chart Z\u2212score (CDC)",{size:23,anchor:"middle",rot:true});
txt(381.5,1221,"BMI PGS Z\u2212score",{size:23,anchor:"middle"});
txt(58.5,912,"BMI Growth Chart Z\u2212score (CDC)",{size:23,anchor:"middle",rot:true});
txt(159,101.5,"Tall stature",{size:13.5,anchor:"middle",fill:"#3d5afe"});
txt(159,116.5,"threshold (CDC)",{size:13.5,anchor:"middle",fill:"#3d5afe"});
txt(604,274.5,"Short stature",{size:13.5,anchor:"middle",fill:"#ff1f1f"});
txt(604,289.5,"threshold (CDC)",{size:13.5,anchor:"middle",fill:"#ff1f1f"});
txt(108,837.5,"Severe Obesity (CDC)",{size:13.5,fill:"#ff2424"});
txt(108,884,"Obesity (CDC)",{size:13.5,fill:"#e9bf2c"});
function stat(cx,y1,y2,r){
  const t=svg.append("text").attr("x",cx).attr("y",y1).attr("text-anchor","middle").style("font-size","16.5px").style("font-weight","bold");
  t.append("tspan").style("font-style","italic").text("r");
  t.append("tspan").text(" = "+r);
  const p=svg.append("text").attr("x",cx).attr("y",y2).attr("text-anchor","middle").style("font-size","16.5px");
  p.append("tspan").style("font-style","italic").text("P");
  p.append("tspan").text(" < 1\u00d710");
  p.append("tspan").attr("dy",-6.5).style("font-size","11px").text("\u221216");
}
stat(202,456,476,"0.36");
stat(202,1096.5,1116.5,"0.23");
function legend(x0,y0,w,h,items){
  svg.append("rect").attr("x",x0).attr("y",y0).attr("width",w).attr("height",h).attr("fill","#fff").attr("stroke","#1a1a1a").attr("stroke-width",1.5);
  items.forEach(it=>{
    const sx=493, tx=508.5;
    if(it.type==="tri") svg.append("path").attr("d",triL).attr("transform",`translate(${sx},${it.sy})`).attr("fill","none").attr("stroke",it.color).attr("stroke-width",2.4);
    if(it.type==="x") svg.append("path").attr("d",xPath(5.6)).attr("transform",`translate(${sx},${it.sy})`).attr("fill","none").attr("stroke",it.color).attr("stroke-width",3.6);
    if(it.type==="c") svg.append("circle").attr("cx",sx).attr("cy",it.sy).attr("r",7.5).attr("fill","none").attr("stroke","#d2d2d2").attr("stroke-width",2);
    it.lines.forEach((l,i)=>txt(tx,it.ty[i],l,{size:13.5,bold:it.bold}));
  });
}
legend(477,379,176,164,[
  {type:"tri",sy:403,color:"#ff3a3a",bold:true,lines:["Short stature (HPO) +","Growth Chart Outlier"],ty:[400.5,416]},
  {type:"x",sy:427,color:"#ff4040",lines:["Short stature (HPO)"],ty:[432]},
  {type:"tri",sy:468,color:"#3a3aff",bold:true,lines:["Tall stature (HPO) +","Growth Chart Outlier"],ty:[465.5,481]},
  {type:"x",sy:492,color:"#4040ff",lines:["Tall stature (HPO)"],ty:[497]},
  {type:"c",sy:526,lines:["Control"],ty:[530.5]}
]);
legend(477,1062.5,176,97,[
  {type:"tri",sy:1084,color:"#ff3a3a",bold:true,lines:["Obesity (HPO) +","Growth Chart Outlier"],ty:[1082,1098]},
  {type:"x",sy:1108.5,color:"#ff4040",lines:["Obesity (HPO)"],ty:[1114]},
  {type:"c",sy:1141,lines:["Control"],ty:[1147]}
]);
</script></body></html>
